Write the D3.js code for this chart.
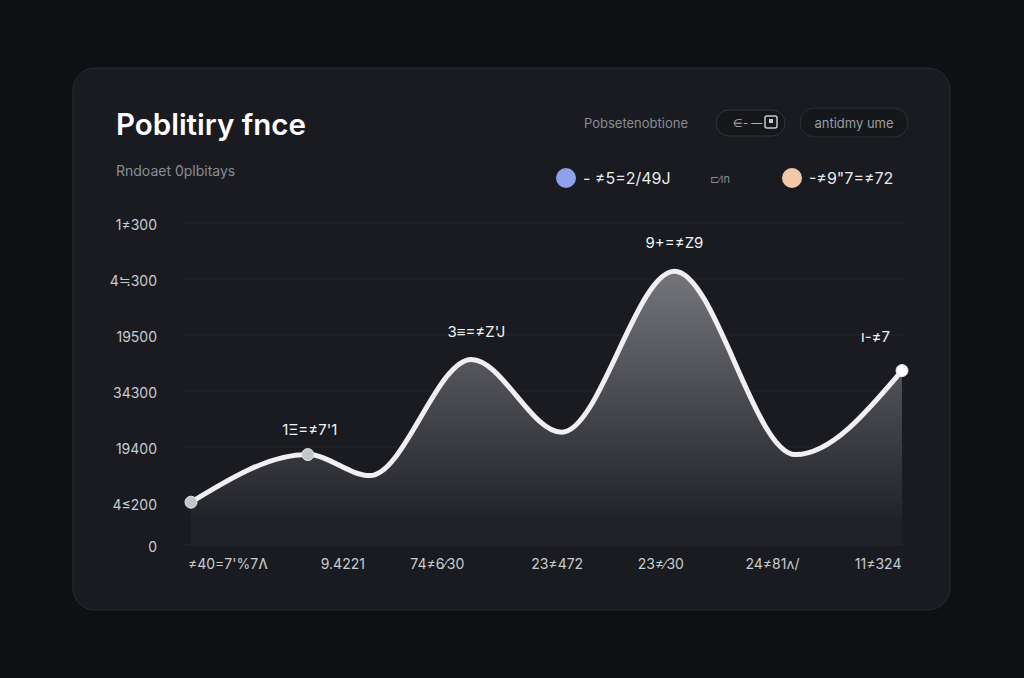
<!DOCTYPE html>
<html>
<head>
<meta charset="utf-8">
<script src="https://cdn.jsdelivr.net/npm/d3@7"></script>
<style>
  html, body { margin: 0; padding: 0; background: #0f1014; }
  svg { display: block; font-family: Inter, "Noto Sans", sans-serif; }
</style>
</head>
<body>
<div id="chart"></div>
<script>
// data
var xPos   = [0, 11.5, 17.6, 27.6, 36.5, 47.6, 59.5, 70];
var values = [1600, 3300, 2550, 6700, 4100, 9850, 3300, 6300];

var yTickValues = [0, 1500, 3500, 5500, 7500, 9500, 11500];
var yTickLabels = ["0", "4≤200", "19400", "34300", "19500", "4≒300", "1≠300"];

var xTickValues = [3.6, 14.9, 24.2, 36.0, 46.2, 57.2, 67.6];
var xTickLabels = ["≠40=7'%7Ʌ", "9.4221", "74≠6∕30", "23≠472", "23≠∕30", "24≠81ʌ/", "11≠324"];

var pointLabels = [
  {i: 1, text: "1Ξ=≠7'1", anchor: "middle", dx: 2, dy: -20},
  {i: 3, text: "3≡=≠Z'J", anchor: "middle", dx: 5, dy: -22},
  {i: 5, text: "9+=≠Z9", anchor: "middle", dx: 0, dy: -23},
  {i: 7, text: "ı-≠7", anchor: "end", dx: -12, dy: -29}
];
var dotIdx = [0, 1, 7];

var legendItems = [
  {color: "#8fa1e8", text: "- ≠5=2/49J", x: 566},
  {color: "#f3caa9", text: "-≠9\"7=≠72", x: 792}
];

var W = 1024, H = 678;
var svg = d3.select("#chart").append("svg").attr("width", W).attr("height", H);

var defs = svg.append("defs");
var grad = defs.append("linearGradient").attr("id", "areaFill")
  .attr("gradientUnits", "userSpaceOnUse")
  .attr("x1", 0).attr("y1", 265).attr("x2", 0).attr("y2", 525);
grad.append("stop").attr("offset", "0%").attr("stop-color", "#77787d");
grad.append("stop").attr("offset", "55%").attr("stop-color", "#46474c");
grad.append("stop").attr("offset", "100%").attr("stop-color", "#1f2126");

// card
svg.append("rect").attr("x", 73).attr("y", 68).attr("width", 877).attr("height", 542)
  .attr("rx", 22).attr("fill", "#191b20").attr("stroke", "#2a2c32").attr("stroke-width", 1);

// header
svg.append("text").attr("x", 116).attr("y", 135).text("Poblitiry fnce")
  .attr("fill", "#ffffff").attr("font-size", 29.5).attr("font-weight", 600);
svg.append("text").attr("x", 116).attr("y", 176).text("Rndoaet 0plbitays")
  .attr("fill", "#8a8c92").attr("font-size", 14);

svg.append("text").attr("x", 688).attr("y", 128).attr("text-anchor", "end")
  .text("Pobsetenobtione").attr("fill", "#8a8c92").attr("font-size", 13);

svg.append("rect").attr("x", 716).attr("y", 110).attr("width", 69).attr("height", 26).attr("rx", 13)
  .attr("fill", "#15171b").attr("stroke", "#33353b");
svg.append("text").attr("x", 733).attr("y", 127).text("∈- —")
  .attr("fill", "#b0b2b8").attr("font-size", 11);
svg.append("rect").attr("x", 765).attr("y", 116).attr("width", 12).attr("height", 12).attr("rx", 2)
  .attr("fill", "none").attr("stroke", "#c8cad0").attr("stroke-width", 1.5);
svg.append("rect").attr("x", 769).attr("y", 119).attr("width", 4).attr("height", 4)
  .attr("fill", "#c8cad0");

svg.append("rect").attr("x", 800).attr("y", 108).attr("width", 108).attr("height", 29).attr("rx", 14.5)
  .attr("fill", "#15171b").attr("stroke", "#2e3036");
svg.append("text").attr("x", 854).attr("y", 128).attr("text-anchor", "middle")
  .text("antidmy ume").attr("fill", "#9a9ca2").attr("font-size", 13);

// legend
var lg = svg.selectAll(".lg").data(legendItems).enter().append("g").attr("class", "lg");
lg.append("circle").attr("cx", function(d) { return d.x; }).attr("cy", 178).attr("r", 10)
  .attr("fill", function(d) { return d.color; });
lg.append("text").attr("x", function(d) { return d.x + 17; }).attr("y", 184)
  .text(function(d) { return d.text; }).attr("fill", "#e8e9ec").attr("font-size", 16);
svg.append("text").attr("x", 710).attr("y", 183).text("⊏∕ın")
  .attr("fill", "#8a8c92").attr("font-size", 11);

// scales
var x = d3.scaleLinear().domain([0, 70]).range([191, 902]);
var y = d3.scaleLinear().domain([0, 12000]).range([547, 211]);

// gridlines
svg.append("g").selectAll("line").data(yTickValues).enter().append("line")
  .attr("x1", 185).attr("x2", 905)
  .attr("y1", function(d) { return y(d) - 2; }).attr("y2", function(d) { return y(d) - 2; })
  .attr("stroke", function(d, i) { return i == 0 ? "#2c2e34" : "#24262c"; })
  .attr("stroke-width", 1);

// y axis
var yAxis = svg.append("g").attr("transform", "translate(160,0)")
  .call(d3.axisLeft(y).tickValues(yTickValues).tickSize(0)
    .tickFormat(function(d, i) { return yTickLabels[i]; }));
yAxis.select(".domain").remove();
yAxis.selectAll("text").attr("fill", "#c9cbd0").attr("font-size", 14)
  .attr("font-family", "Inter, 'Noto Sans', sans-serif").attr("dy", "0.32em");

// x axis
var xAxis = svg.append("g").attr("transform", "translate(0,556)")
  .call(d3.axisBottom(x).tickValues(xTickValues).tickSize(0)
    .tickFormat(function(d, i) { return xTickLabels[i]; }));
xAxis.select(".domain").remove();
xAxis.selectAll("text").attr("fill", "#c9cbd0").attr("font-size", 14)
  .attr("font-family", "Inter, 'Noto Sans', sans-serif").attr("dy", "0.71em");

var pts = xPos.map(function(d, i) { return [d, values[i]]; });

var area = d3.area().curve(d3.curveMonotoneX)
  .x(function(d) { return x(d[0]); })
  .y0(y(0) - 2)
  .y1(function(d) { return y(d[1]); });
svg.append("path").datum(pts).attr("d", area).attr("fill", "url(#areaFill)");

var line = d3.line().curve(d3.curveMonotoneX)
  .x(function(d) { return x(d[0]); })
  .y(function(d) { return y(d[1]); });
svg.append("path").datum(pts).attr("d", line)
  .attr("fill", "none").attr("stroke", "#f0f0f2").attr("stroke-width", 5)
  .attr("stroke-linecap", "round");

svg.selectAll(".dot").data(dotIdx).enter().append("circle").attr("class", "dot")
  .attr("cx", function(i) { return x(xPos[i]); })
  .attr("cy", function(i) { return y(values[i]); })
  .attr("r", 6).attr("fill", function(i) { return i == 7 ? "#ffffff" : "#c4c5c9"; })
  .attr("stroke", "#e6e7ea").attr("stroke-width", 1);

svg.selectAll(".plab").data(pointLabels).enter().append("text").attr("class", "plab")
  .attr("x", function(d) { return x(xPos[d.i]) + d.dx; })
  .attr("y", function(d) { return y(values[d.i]) + d.dy; })
  .attr("text-anchor", function(d) { return d.anchor; })
  .text(function(d) { return d.text; })
  .attr("fill", "#f2f3f5").attr("font-size", 15);
</script>
</body>
</html>
